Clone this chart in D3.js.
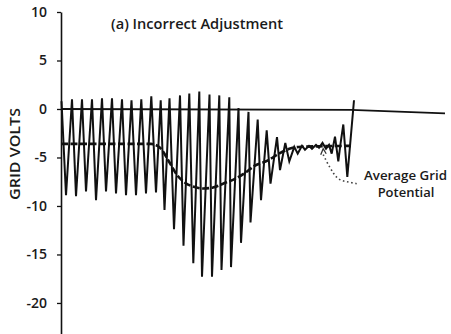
<!DOCTYPE html>
<html>
<head>
<meta charset="utf-8">
<script src="https://cdn.jsdelivr.net/npm/d3@7"></script>
<style>
body { margin: 0; background: #fff; }
text { font-family: "Open Sans", sans-serif; font-weight: 600; fill: #1a1a1a; }
</style>
</head>
<body>
<script>
// Grid voltage trace, time in cycles, volts
var waveTime = [0.05, 0.5, 1.1, 1.5, 2.1, 2.5, 3.1, 3.5, 4.1, 4.5, 5.1, 5.5, 6.1, 6.5, 7.05, 7.5,
	8.03, 8.5, 9.03, 9.5, 9.97, 10.35, 10.85, 11.3, 11.9, 12.25, 12.83, 13.23, 13.83, 14.1,
	14.85, 15.1, 15.83, 16.05, 16.83, 17.0, 17.75, 18.0, 18.75, 18.95, 19.67, 20.0, 20.57,
	20.95, 21.6, 21.9, 22.43, 22.83, 23.33, 23.67, 24.1, 24.4, 24.8, 25.1, 25.5, 25.8,
	26.15, 26.5, 26.8, 27.07, 27.4, 27.73, 27.95, 28.23, 28.63, 29.3];
var waveVolts = [0.8, -8.9, 1.0, -9.0, 1.0, -8.5, 1.0, -9.4, 1.1, -8.5, 1.1, -8.7, 1.0, -8.9, 0.9, -8.9,
	1.0, -8.7, 1.3, -8.6, 0.9, -10.4, 1.1, -12.4, 1.4, -14.1, 1.6, -15.9, 1.8, -17.3,
	1.5, -17.3, 1.4, -16.6, 1.2, -16.3, 0.1, -13.8, -0.3, -11.7, -1.1, -9.4, -2.2,
	-7.7, -2.9, -6.3, -3.5, -5.4, -3.9, -4.6, -3.8, -4.2, -3.8, -4.1, -3.7, -4.0,
	-3.5, -4.1, -3.7, -4.6, -2.85, -5.4, -3.6, -1.6, -7.0, 0.9];

// Average grid potential
var avgTime = [0, 9.0, 9.9, 10.9, 11.6, 12.4, 13.2, 14.2, 15.2, 16.2, 17.4, 18.4, 19.3, 20.7, 21.8, 23.0, 24.0, 29.0];
var avgVolts = [-3.6, -3.6, -4.0, -5.6, -6.8, -7.6, -8.0, -8.2, -8.1, -7.7, -7.2, -6.6, -5.9, -5.3, -4.6, -4.05, -3.9, -3.8];

// Zero reference line
var zeroTime = [0, 29, 38.4];
var zeroVolts = [0, -0.1, -0.45];

// Dotted leader from label to average line
var leaderTime = [26.22, 26.55, 26.9, 27.23, 27.57, 28.07, 28.57, 29.07, 29.57];
var leaderVolts = [-4.7, -5.4, -6.05, -6.6, -7.1, -7.4, -7.5, -7.6, -7.7];

var yTicks = [10, 5, 0, -5, -10, -15, -20];

var width = 451, height = 334;
var x = d3.scaleLinear().domain([0, 39]).range([61, 451]);
var y = d3.scaleLinear().domain([-23.2, 10]).range([334, 12]);

var svg = d3.select("body").append("svg")
	.attr("width", width)
	.attr("height", height);

// y axis
var yAxis = d3.axisLeft(y)
	.tickValues(yTicks)
	.tickSize(4)
	.tickSizeOuter(0)
	.tickPadding(10)
	.tickFormat(function(d) { return d < 0 ? "-" + Math.abs(d) : d; });

var gy = svg.append("g")
	.attr("transform", "translate(61,0)")
	.call(yAxis);
gy.select(".domain").attr("stroke", "#111").attr("stroke-width", 1.6);
gy.selectAll(".tick line").attr("stroke", "#111").attr("stroke-width", 1.3);
gy.selectAll(".tick text")
	.style("font-family", "Open Sans, sans-serif")
	.style("font-weight", 600)
	.style("font-size", "14px")
	.attr("fill", "#1a1a1a");

// y axis label
svg.append("text")
	.attr("transform", "rotate(-90)")
	.attr("x", -154)
	.attr("y", 20)
	.style("text-anchor", "middle")
	.style("font-size", "13.5px")
	.attr("textLength", 92)
	.attr("lengthAdjust", "spacingAndGlyphs")
	.text("GRID VOLTS");

// title
svg.append("text")
	.attr("x", 111)
	.attr("y", 29)
	.style("font-size", "13.5px")
	.attr("textLength", 172)
	.attr("lengthAdjust", "spacingAndGlyphs")
	.text("(a) Incorrect Adjustment");

var line = d3.line()
	.x(function(d) { return x(d[0]); })
	.y(function(d) { return y(d[1]); });

// zero line
svg.append("path")
	.datum(d3.zip(zeroTime, zeroVolts))
	.attr("fill", "none")
	.attr("stroke", "#111")
	.attr("stroke-width", 1.8)
	.attr("d", line);

// oscillating grid voltage
svg.append("path")
	.datum(d3.zip(waveTime, waveVolts))
	.attr("fill", "none")
	.attr("stroke", "#111")
	.attr("stroke-width", 2)
	.attr("stroke-linejoin", "miter")
	.attr("d", line);

// average grid potential
svg.append("path")
	.datum(d3.zip(avgTime, avgVolts))
	.attr("fill", "none")
	.attr("stroke", "#111")
	.attr("stroke-width", 2.6)
	.attr("stroke-dasharray", "7,2.5")
	.attr("d", line.curve(d3.curveMonotoneX));

// dotted leader + open arrow head
var leader = d3.line()
	.x(function(d) { return x(d[0]); })
	.y(function(d) { return y(d[1]); })
	.curve(d3.curveBasis);
svg.append("path")
	.datum(d3.zip(leaderTime, leaderVolts))
	.attr("fill", "none")
	.attr("stroke", "#444")
	.attr("stroke-width", 1.6)
	.attr("stroke-dasharray", "1.6,2.6")
	.attr("d", leader);

var tipX = x(26.22), tipY = y(-4.1);
svg.append("path")
	.attr("fill", "none")
	.attr("stroke", "#333")
	.attr("stroke-width", 1.3)
	.attr("d", "M" + (tipX - 2.5) + "," + (tipY + 6) + "L" + tipX + "," + tipY + "L" + (tipX + 3) + "," + (tipY + 5));

svg.append("text")
	.attr("x", 364)
	.attr("y", 180)
	.style("font-size", "13px")
	.attr("textLength", 83)
	.attr("lengthAdjust", "spacingAndGlyphs")
	.text("Average Grid");
svg.append("text")
	.attr("x", 406)
	.attr("y", 197)
	.style("text-anchor", "middle")
	.style("font-size", "13px")
	.text("Potential");
</script>
</body>
</html>
